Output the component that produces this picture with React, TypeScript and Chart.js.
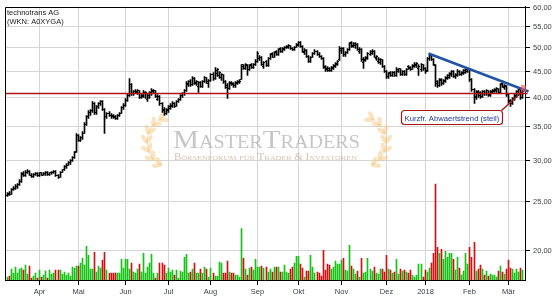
import React, { useEffect, useRef } from 'react';
import { Chart, registerables, LinearScale, LogarithmicScale } from 'chart.js';

Chart.register(...registerables);

class SnapLinearScale extends (LinearScale as any) {
  static id = 'snapLinear';
  static defaults = (LinearScale as any).defaults;
  getPixelForValue(value: number) {
    const p = super.getPixelForValue(value);
    return Math.floor(p) + 0.5;
  }
}
class SnapLogScale extends (LogarithmicScale as any) {
  static id = 'snapLog';
  static defaults = (LogarithmicScale as any).defaults;
  getPixelForValue(value: number) {
    const p = super.getPixelForValue(value);
    return Math.floor(p) + 0.5;
  }
}
Chart.register(SnapLinearScale as any, SnapLogScale as any);

// ---- data (daily bars, mid-March 2017 to early March 2018) ----
const open = [
  25.6, 25.9, 25.8, 26.3, 26.5, 26.7, 26.9, 27.3, 28.3, 28.0,
  28.5, 28.6, 28.1, 27.9, 28.2, 28.3, 28.0, 28.4, 28.1, 28.3,
  28.5, 28.2, 28.4, 28.5, 28.6, 28.0, 27.8, 28.5, 28.8, 29.2,
  29.4, 29.7, 30.0, 30.5, 31.3, 33.6, 32.9, 33.3, 34.0, 35.4,
  36.6, 37.3, 37.6, 38.9, 37.3, 38.3, 38.8, 39.2, 37.8, 36.6,
  37.2, 36.9, 36.8, 36.6, 36.3, 36.8, 37.2, 38.1, 38.6, 39.5,
  40.3, 42.3, 40.7, 41.0, 40.8, 41.2, 40.0, 40.2, 40.6, 39.6,
  40.0, 40.6, 41.0, 41.2, 39.6, 40.2, 38.9, 37.8, 37.2, 37.6,
  38.0, 38.3, 38.9, 38.4, 39.2, 39.6, 40.3, 40.6, 41.2, 42.3,
  43.0, 42.3, 43.6, 42.5, 42.0, 42.8, 42.0, 43.0, 43.7, 42.6,
  43.1, 44.3, 43.5, 44.6, 44.2, 43.8, 44.3, 42.9, 42.2, 41.6,
  42.8, 42.6, 42.1, 42.5, 42.7, 43.4, 46.3, 45.6, 46.2, 45.4,
  46.3, 45.8, 46.4, 47.0, 47.6, 48.0, 46.0, 47.0, 46.2, 47.6,
  48.8, 48.0, 49.2, 48.6, 49.8, 49.3, 49.6, 50.0, 50.2, 50.5,
  49.9, 49.6, 50.2, 50.6, 51.3, 50.4, 49.0, 49.5, 48.2, 47.1,
  48.0, 48.8, 49.3, 48.6, 48.2, 47.6, 45.9, 45.6, 45.6, 45.1,
  45.6, 46.0, 46.4, 47.4, 49.4, 49.9, 48.5, 49.0, 49.6, 51.3,
  50.3, 50.6, 50.9, 49.2, 49.7, 46.8, 47.2, 47.6, 48.6, 48.8,
  49.3, 47.6, 47.0, 46.8, 47.4, 46.0, 45.0, 43.9, 44.8, 44.1,
  44.8, 44.2, 45.0, 45.5, 44.4, 45.0, 44.3, 45.9, 45.8, 45.4,
  46.0, 46.2, 45.6, 45.4, 46.3, 45.6, 45.2, 47.6, 48.3, 47.4,
  46.2, 42.9, 42.2, 43.3, 42.5, 43.0, 43.6, 43.8, 44.3, 45.0,
  43.9, 44.2, 45.0, 44.3, 44.6, 44.8, 45.0, 45.4, 43.3, 41.4,
  40.0, 41.0, 40.8, 40.1, 41.1, 40.6, 41.2, 40.4, 40.8, 41.0,
  41.2, 41.6, 40.8, 42.6, 41.8, 42.0, 40.5, 39.4, 38.9, 39.6,
  40.2, 40.6, 41.4, 39.9,
];
const high = [
  26.0, 26.1, 26.4, 26.7, 26.9, 27.1, 27.5, 28.4, 28.6, 28.7,
  28.8, 28.7, 28.3, 28.3, 28.5, 28.4, 28.5, 28.5, 28.4, 28.6,
  28.6, 28.5, 28.6, 28.7, 28.7, 28.2, 28.6, 28.9, 29.3, 29.6,
  29.9, 30.2, 30.6, 31.3, 33.9, 33.8, 33.5, 34.2, 35.6, 36.9,
  37.6, 37.8, 39.3, 39.0, 38.5, 39.0, 39.5, 39.4, 38.0, 37.4,
  37.5, 37.1, 37.0, 36.8, 37.0, 37.4, 38.3, 38.8, 39.8, 40.6,
  43.6, 42.5, 41.2, 41.4, 41.5, 41.3, 40.6, 41.2, 41.0, 40.6,
  41.0, 41.6, 41.5, 41.3, 40.5, 40.3, 39.1, 38.2, 38.0, 38.6,
  38.8, 39.2, 39.0, 39.4, 39.8, 40.5, 40.9, 41.4, 43.0, 43.2,
  43.3, 44.0, 43.8, 43.2, 43.0, 43.0, 43.2, 44.0, 43.8, 43.3,
  44.6, 44.8, 45.8, 45.6, 45.0, 44.6, 44.4, 43.2, 42.5, 42.9,
  43.0, 42.8, 42.9, 43.1, 43.3, 46.3, 46.5, 46.6, 46.3, 46.4,
  46.6, 46.6, 47.4, 49.3, 48.4, 48.1, 47.0, 47.2, 47.8, 48.8,
  49.0, 49.3, 49.5, 49.8, 50.0, 50.1, 50.4, 50.6, 50.7, 50.6,
  50.1, 50.4, 51.0, 51.5, 51.4, 50.5, 49.8, 49.6, 48.4, 48.2,
  49.0, 49.6, 49.5, 48.9, 48.4, 47.8, 46.2, 46.0, 45.8, 46.0,
  46.4, 46.8, 47.2, 50.4, 50.2, 50.0, 49.3, 49.8, 51.2, 51.6,
  51.3, 51.2, 51.0, 50.0, 49.8, 47.8, 48.2, 49.0, 49.5, 49.6,
  49.4, 48.4, 47.8, 47.7, 47.5, 46.2, 45.2, 44.8, 45.0, 44.9,
  45.0, 45.7, 45.6, 45.6, 45.2, 45.1, 45.6, 46.2, 46.0, 46.4,
  46.8, 46.8, 46.4, 46.6, 46.4, 45.8, 47.8, 48.6, 48.5, 47.6,
  46.4, 43.2, 43.5, 43.6, 43.4, 44.0, 44.4, 44.8, 45.2, 45.1,
  44.6, 45.3, 45.2, 45.0, 45.3, 45.6, 45.8, 45.5, 43.5, 41.6,
  41.2, 41.2, 41.0, 41.3, 41.3, 41.4, 41.3, 41.2, 41.4, 41.6,
  41.8, 41.7, 42.6, 43.1, 42.4, 42.1, 40.6, 39.6, 40.0, 40.6,
  41.3, 41.6, 41.5, 41.2,
];
const low = [
  25.5, 25.6, 25.7, 26.2, 26.3, 26.5, 26.8, 27.2, 27.9, 27.9,
  28.3, 28.0, 27.8, 27.8, 28.0, 27.9, 27.9, 28.0, 28.0, 28.1,
  28.1, 28.0, 28.2, 28.3, 27.9, 27.7, 27.8, 28.4, 28.7, 29.0,
  29.3, 29.5, 29.9, 30.3, 31.2, 32.7, 32.8, 33.1, 33.9, 35.2,
  36.4, 36.9, 37.4, 37.0, 37.0, 38.0, 38.6, 37.6, 34.0, 36.4,
  36.6, 36.4, 36.3, 36.1, 36.2, 36.6, 37.1, 37.9, 38.4, 39.3,
  40.2, 40.4, 40.3, 40.6, 40.5, 39.8, 39.7, 40.0, 39.8, 39.2,
  39.8, 40.4, 40.6, 40.0, 39.4, 38.6, 37.3, 36.9, 37.0, 37.4,
  37.8, 38.1, 38.2, 38.3, 39.0, 39.4, 40.0, 40.4, 41.0, 42.0,
  42.0, 42.1, 42.4, 42.2, 40.8, 41.8, 41.9, 42.8, 42.6, 41.9,
  42.9, 43.2, 43.3, 44.0, 43.6, 43.2, 42.6, 41.6, 39.7, 41.4,
  42.1, 41.8, 41.9, 42.3, 42.5, 43.3, 45.4, 45.4, 44.2, 45.2,
  45.6, 45.6, 46.2, 46.8, 47.2, 46.2, 45.6, 45.9, 46.0, 47.4,
  47.8, 47.8, 48.3, 48.4, 49.0, 49.1, 49.4, 49.8, 49.9, 49.6,
  49.4, 49.5, 50.0, 50.4, 50.2, 49.0, 48.6, 48.0, 46.8, 46.9,
  47.8, 48.5, 48.4, 47.9, 47.4, 45.6, 44.9, 45.0, 45.0, 45.0,
  45.4, 45.8, 46.2, 47.2, 48.8, 48.2, 48.2, 48.7, 49.4, 50.2,
  50.0, 49.8, 49.4, 48.8, 47.0, 45.6, 47.0, 47.4, 48.3, 48.5,
  47.8, 47.3, 46.6, 46.5, 45.8, 44.8, 43.6, 43.6, 43.9, 43.9,
  44.0, 44.0, 44.7, 44.2, 44.2, 44.1, 44.2, 45.3, 45.2, 45.3,
  45.8, 45.8, 44.2, 45.0, 45.2, 44.6, 45.0, 47.3, 47.2, 46.2,
  42.0, 41.9, 42.0, 42.2, 42.3, 42.8, 43.3, 43.6, 44.0, 43.8,
  43.6, 44.0, 44.1, 44.1, 44.4, 44.6, 44.8, 43.0, 41.0, 38.8,
  39.6, 40.0, 39.8, 40.0, 40.4, 40.4, 40.2, 40.2, 40.6, 40.8,
  40.9, 40.6, 40.7, 41.8, 41.4, 40.2, 38.9, 38.3, 38.7, 39.4,
  40.0, 40.4, 39.6, 39.7,
];
const close = [
  25.8, 25.7, 26.3, 26.5, 26.7, 26.9, 27.3, 28.2, 28.0, 28.5,
  28.6, 28.1, 27.9, 28.2, 28.3, 28.0, 28.4, 28.1, 28.3, 28.5,
  28.2, 28.4, 28.5, 28.6, 28.0, 27.8, 28.5, 28.8, 29.2, 29.4,
  29.7, 30.0, 30.5, 31.2, 33.6, 32.9, 33.3, 34.0, 35.4, 36.6,
  37.3, 37.6, 38.9, 37.3, 38.3, 38.8, 39.2, 37.8, 36.6, 37.1,
  36.9, 36.7, 36.5, 36.3, 36.8, 37.2, 38.1, 38.6, 39.5, 40.3,
  42.3, 40.7, 41.0, 41.1, 41.2, 40.0, 40.4, 40.9, 40.8, 40.3,
  40.8, 41.3, 41.2, 40.2, 40.2, 38.9, 37.6, 37.2, 37.8, 38.3,
  38.5, 38.9, 38.4, 39.2, 39.6, 40.3, 40.6, 41.2, 42.6, 42.9,
  42.3, 43.6, 42.7, 43.0, 42.8, 42.0, 43.0, 43.7, 42.9, 43.1,
  44.3, 43.5, 45.2, 45.3, 44.7, 44.3, 42.9, 41.9, 41.6, 42.6,
  42.3, 42.1, 42.7, 42.9, 43.0, 46.0, 45.6, 46.3, 45.4, 46.1,
  45.8, 46.4, 47.0, 48.8, 48.0, 46.5, 46.8, 46.2, 47.6, 48.6,
  48.0, 49.1, 48.6, 49.6, 49.3, 49.9, 50.2, 50.4, 50.5, 49.8,
  49.6, 50.2, 50.8, 51.3, 50.4, 49.2, 49.5, 48.2, 47.1, 48.0,
  48.8, 49.3, 48.6, 48.1, 47.6, 45.8, 45.3, 45.2, 45.1, 45.8,
  46.2, 46.6, 47.0, 49.8, 49.9, 48.5, 49.1, 49.6, 51.0, 50.5,
  51.0, 50.9, 49.6, 49.7, 47.4, 47.5, 48.0, 48.8, 49.2, 49.3,
  48.0, 48.2, 47.5, 47.4, 46.0, 45.0, 43.9, 44.6, 44.1, 44.7,
  44.2, 45.4, 45.5, 44.4, 45.0, 44.3, 45.4, 45.5, 45.4, 46.2,
  46.5, 46.6, 46.0, 46.3, 45.5, 45.0, 47.6, 48.3, 47.4, 46.5,
  42.5, 42.2, 43.2, 42.5, 43.1, 43.8, 44.1, 44.5, 45.0, 44.0,
  44.4, 45.0, 44.3, 44.8, 45.1, 45.4, 45.5, 43.3, 41.4, 40.2,
  40.9, 40.3, 40.1, 41.1, 40.6, 41.2, 40.5, 41.0, 41.2, 41.4,
  41.6, 40.8, 42.4, 42.0, 42.2, 40.5, 39.2, 38.9, 39.8, 40.4,
  41.0, 41.4, 39.9, 41.0,
];
// volume (thousand shares, estimated)
const volume = [
  3, 4, 11, 7, 13, 7, 11, 12, 10, 15,
  6, 14, 2, 4, 7, 2, 10, 3, 5, 9,
  2, 10, 6, 7, 10, 10, 10, 6, 8, 5,
  7, 4, 13, 12, 14, 14, 17, 22, 15, 34,
  25, 11, 11, 28, 8, 14, 12, 20, 28, 10,
  7, 7, 7, 7, 7, 7, 21, 12, 21, 21,
  11, 17, 8, 7, 11, 16, 8, 27, 7, 13,
  17, 26, 7, 2, 7, 17, 17, 15, 7, 12,
  8, 10, 5, 10, 2, 9, 8, 23, 26, 7,
  8, 11, 17, 7, 7, 11, 7, 13, 11, 3,
  12, 7, 4, 4, 18, 17, 7, 7, 19, 8,
  7, 7, 5, 5, 3, 52, 22, 11, 5, 12,
  13, 10, 21, 13, 13, 14, 12, 13, 8, 11,
  8, 13, 13, 13, 8, 8, 15, 8, 7, 11,
  13, 17, 24, 24, 16, 12, 3, 9, 9, 25,
  13, 7, 8, 7, 4, 30, 10, 16, 15, 11,
  13, 19, 16, 16, 20, 22, 10, 9, 35, 14,
  11, 6, 9, 3, 22, 7, 8, 22, 11, 9,
  13, 7, 6, 11, 11, 8, 25, 11, 10, 7,
  8, 21, 6, 11, 9, 10, 8, 7, 10, 5,
  3, 5, 16, 16, 3, 10, 8, 12, 17, 27,
  97, 33, 27, 31, 21, 29, 23, 27, 27, 21,
  10, 23, 12, 5, 9, 27, 16, 33, 23, 38,
  9, 11, 15, 11, 5, 9, 4, 6, 5, 5,
  3, 9, 14, 8, 6, 11, 20, 12, 11, 7,
  11, 8, 12, 10,
];

// month ticks (bar index of first trading day) and labels
const monthIdx = [16, 35, 58, 79, 100, 123, 143, 164, 186, 205, 227, 246];
const monthLabels = ['Apr', 'Mai', 'Jun', 'Jul', 'Aug', 'Sep', 'Okt', 'Nov', 'Dez', '2018', 'Feb', 'Mär'];
const priceTicks = [20, 25, 30, 35, 40, 45, 50, 55, 60];

// drawn lines / annotation
const trendX = [206.7, 255.6];
const trendY = [48.7, 41.0];
const supportX = [-1, 255.4];
const supportY = [40.7, 40.7];
const noteX = 253.5;
const noteY = 41.2;
const noteText = 'Kurzfr. Abwaertstrend (steil)';
const titleLines = ['technotrans AG', '(WKN: A0XYGA)'];

const SANS = "'Liberation Sans', Arial, sans-serif";
const SERIF = "'Liberation Serif', 'Times New Roman', serif";

function laurel(ctx: CanvasRenderingContext2D, cx: number, cy: number, r: number, side: number) {
  ctx.save();
  ctx.fillStyle = 'rgba(246, 204, 140, 0.55)';
  ctx.strokeStyle = 'rgba(246, 204, 140, 0.55)';
  ctx.lineWidth = 1;
  ctx.beginPath();
  if (side < 0) ctx.arc(cx, cy, r, (115 * Math.PI) / 180, (245 * Math.PI) / 180);
  else ctx.arc(cx, cy, r, (-65 * Math.PI) / 180, (65 * Math.PI) / 180);
  ctx.stroke();
  const n = 7;
  for (let k = 0; k < n; k++) {
    const t = k / (n - 1);
    const deg = side < 0 ? 118 + t * 122 : 62 - t * 122;
    const ang = (deg * Math.PI) / 180;
    const px = cx + r * Math.cos(ang);
    const py = cy + r * Math.sin(ang);
    const tang = ang + (side < 0 ? Math.PI / 2 : -Math.PI / 2);
    for (const off of [-1, 1]) {
      const la = tang + off * 0.6;
      const lx = px + Math.cos(la) * 4;
      const ly = py + Math.sin(la) * 4;
      ctx.beginPath();
      ctx.ellipse(lx, ly, 5, 2.2, la, 0, Math.PI * 2);
      ctx.fill();
    }
  }
  ctx.restore();
}

function fitText(ctx: CanvasRenderingContext2D, text: string, x: number, y: number, w: number) {
  const m = ctx.measureText(text).width;
  ctx.save();
  ctx.translate(x, y);
  ctx.scale(w / m, 1);
  ctx.fillText(text, 0, 0);
  ctx.restore();
}

const decor = {
  id: 'decor',
  beforeDatasetsDraw(chart: any) {
    const ctx: CanvasRenderingContext2D = chart.ctx;
    ctx.save();
    laurel(ctx, 173, 142, 26, -1);
    laurel(ctx, 360, 142, 26, 1);
    ctx.fillStyle = 'rgba(160,160,160,0.6)';
    ctx.font = `small-caps 26px ${SERIF}`;
    ctx.textBaseline = 'alphabetic';
    fitText(ctx, 'MasterTraders', 173, 148, 187);
    ctx.fillStyle = 'rgba(200,175,145,0.75)';
    ctx.font = `small-caps 9.5px ${SERIF}`;
    fitText(ctx, 'Börsenforum für Trader & Investoren', 174, 160, 183);
    ctx.restore();
  },
  afterDatasetsDraw(chart: any) {
    const ctx: CanvasRenderingContext2D = chart.ctx;
    const ax = chart.scales.x.getPixelForValue(noteX);
    const ay = chart.scales.y.getPixelForValue(noteY);
    ctx.save();
    ctx.fillStyle = 'rgba(240, 90, 90, 0.65)';
    ctx.fillRect(ax - 2.5, ay - 5.5, 5, 7);
    const bx0 = ax - 122, bx1 = ax - 21, by0 = ay + 20, by1 = ay + 34;
    ctx.strokeStyle = '#a81818';
    ctx.lineWidth = 1.5;
    ctx.beginPath();
    ctx.moveTo(bx1 - 1, by0);
    ctx.lineTo(ax, ay);
    ctx.stroke();
    ctx.beginPath();
    ctx.roundRect(bx0, by0, bx1 - bx0, by1 - by0, 3);
    ctx.fillStyle = '#ffffff';
    ctx.fill();
    ctx.lineWidth = 1.2;
    ctx.stroke();
    ctx.fillStyle = '#1e3a8c';
    ctx.font = `7.7px ${SANS}`;
    ctx.textBaseline = 'alphabetic';
    ctx.fillText(noteText, bx0 + 3, by0 + 10);
    ctx.restore();
  },
  afterDraw(chart: any) {
    const ctx: CanvasRenderingContext2D = chart.ctx;
    const a = chart.chartArea;
    ctx.save();
    ctx.strokeStyle = '#000';
    ctx.lineWidth = 1;
    ctx.beginPath();
    ctx.moveTo(Math.round(a.left) + 0.5, Math.round(a.bottom));
    ctx.lineTo(Math.round(a.left) + 0.5, Math.round(a.top) + 0.5);
    ctx.lineTo(Math.round(a.right), Math.round(a.top) + 0.5);
    ctx.stroke();
    ctx.fillStyle = '#1a1a1a';
    ctx.font = `7.5px ${SANS}`;
    ctx.textBaseline = 'alphabetic';
    ctx.fillText(titleLines[0], 7, 15);
    ctx.fillText(titleLines[1], 7, 24);
    ctx.restore();
  },
};

function makeTick(side: 'open' | 'close') {
  const c = document.createElement('canvas');
  c.width = 3;
  c.height = 1;
  const g = c.getContext('2d')!;
  g.fillStyle = '#000';
  g.fillRect(side === 'open' ? 0 : 2, 0, 1, 1);
  return c;
}

export default function App() {
  const ref = useRef<HTMLCanvasElement>(null);
  useEffect(() => {
    const idx = close.map((_, i) => i);
    const ranges = idx.map((i) => ({ x: i, y: [low[i], high[i]] }));
    const opens = idx.map((i) => ({ x: i, y: open[i] }));
    const closes = idx.map((i) => ({ x: i, y: close[i] }));
    const vols = idx.map((i) => ({ x: i, y: volume[i] }));
    const volColors = idx.map((i) => (close[i] >= open[i] ? '#12c412' : '#d01010'));
    const trend = trendX.map((x, k) => ({ x, y: trendY[k] }));
    const support = supportX.map((x, k) => ({ x, y: supportY[k] }));

    const tickFont = { family: SANS, size: 7.5, lineHeight: 1 };
    const gridColor = '#d5d5d5';

    const chart = new Chart(ref.current as HTMLCanvasElement, {
      type: 'bar',
      data: {
        datasets: [
          { type: 'line', data: trend, borderColor: '#2453a3', borderWidth: 2.6, pointRadius: 0, clip: false, xAxisID: 'x', yAxisID: 'y', order: 1 } as any,
          { type: 'line', data: support, borderColor: '#b01515', borderWidth: 1.3, pointRadius: 0, clip: false, xAxisID: 'x', yAxisID: 'y', order: 2 } as any,
          { type: 'scatter', data: closes, pointStyle: makeTick('close'), pointRadius: 1, xAxisID: 'x', yAxisID: 'y', order: 3 } as any,
          { type: 'scatter', data: opens, pointStyle: makeTick('open'), pointRadius: 1, xAxisID: 'x', yAxisID: 'y', order: 3 } as any,
          { type: 'bar', data: ranges, backgroundColor: '#000', barThickness: 1, grouped: false, xAxisID: 'x', yAxisID: 'y', order: 4 } as any,
          { type: 'bar', data: vols, backgroundColor: volColors, barThickness: 1, grouped: false, xAxisID: 'x', yAxisID: 'vol', order: 5 } as any,
        ],
      },
      options: {
        responsive: false,
        animation: false,
        devicePixelRatio: 1,
        events: [],
        layout: { padding: { left: 4, top: 4, right: 0, bottom: 0 } },
        plugins: { legend: { display: false }, tooltip: { enabled: false }, title: { display: false } },
        scales: {
          x: {
            type: 'snapLinear',
            position: 'bottom',
            min: -1,
            max: 254,
            bounds: 'data',
            offset: false,
            afterBuildTicks: (s: any) => { s.ticks = monthIdx.map((v) => ({ value: v })); },
            afterFit: (s: any) => { s.height = 20; },
            grid: { color: gridColor, lineWidth: 1, offset: false, drawTicks: true, tickLength: 5, tickColor: '#000' },
            border: { display: true, color: '#000', width: 1 },
            ticks: {
              autoSkip: false, maxRotation: 0, minRotation: 0, padding: 3, font: tickFont, color: '#3a3f48',
              callback: (v: any) => { const k = monthIdx.indexOf(Number(v)); return k >= 0 ? monthLabels[k] : ''; },
            },
          },
          y: {
            type: 'snapLog',
            position: 'right',
            min: 17.48,
            max: 60.27,
            bounds: 'data',
            beginAtZero: false,
            afterBuildTicks: (s: any) => { s.ticks = priceTicks.map((v) => ({ value: v })); },
            afterFit: (s: any) => { s.width = 30; },
            grid: { color: gridColor, lineWidth: 1, drawTicks: true, tickLength: 5, tickColor: '#000' },
            border: { display: true, color: '#000', width: 1 },
            ticks: {
              autoSkip: false, padding: 3, font: tickFont, color: '#3a3f48',
              callback: (v: any) => Number(v).toFixed(2).replace('.', ','),
            },
          },
          vol: { type: 'linear', display: false, min: 0, max: 276, position: 'left' },
        } as any,
      },
      plugins: [decor],
    } as any);
    return () => chart.destroy();
  }, []);

  return (
    <div style={{ position: 'absolute', left: 0, top: 0, width: 555, height: 300, background: '#fff' }}>
      <canvas ref={ref} width={555} height={300} style={{ display: 'block', width: 555, height: 300 }} />
    </div>
  );
}
